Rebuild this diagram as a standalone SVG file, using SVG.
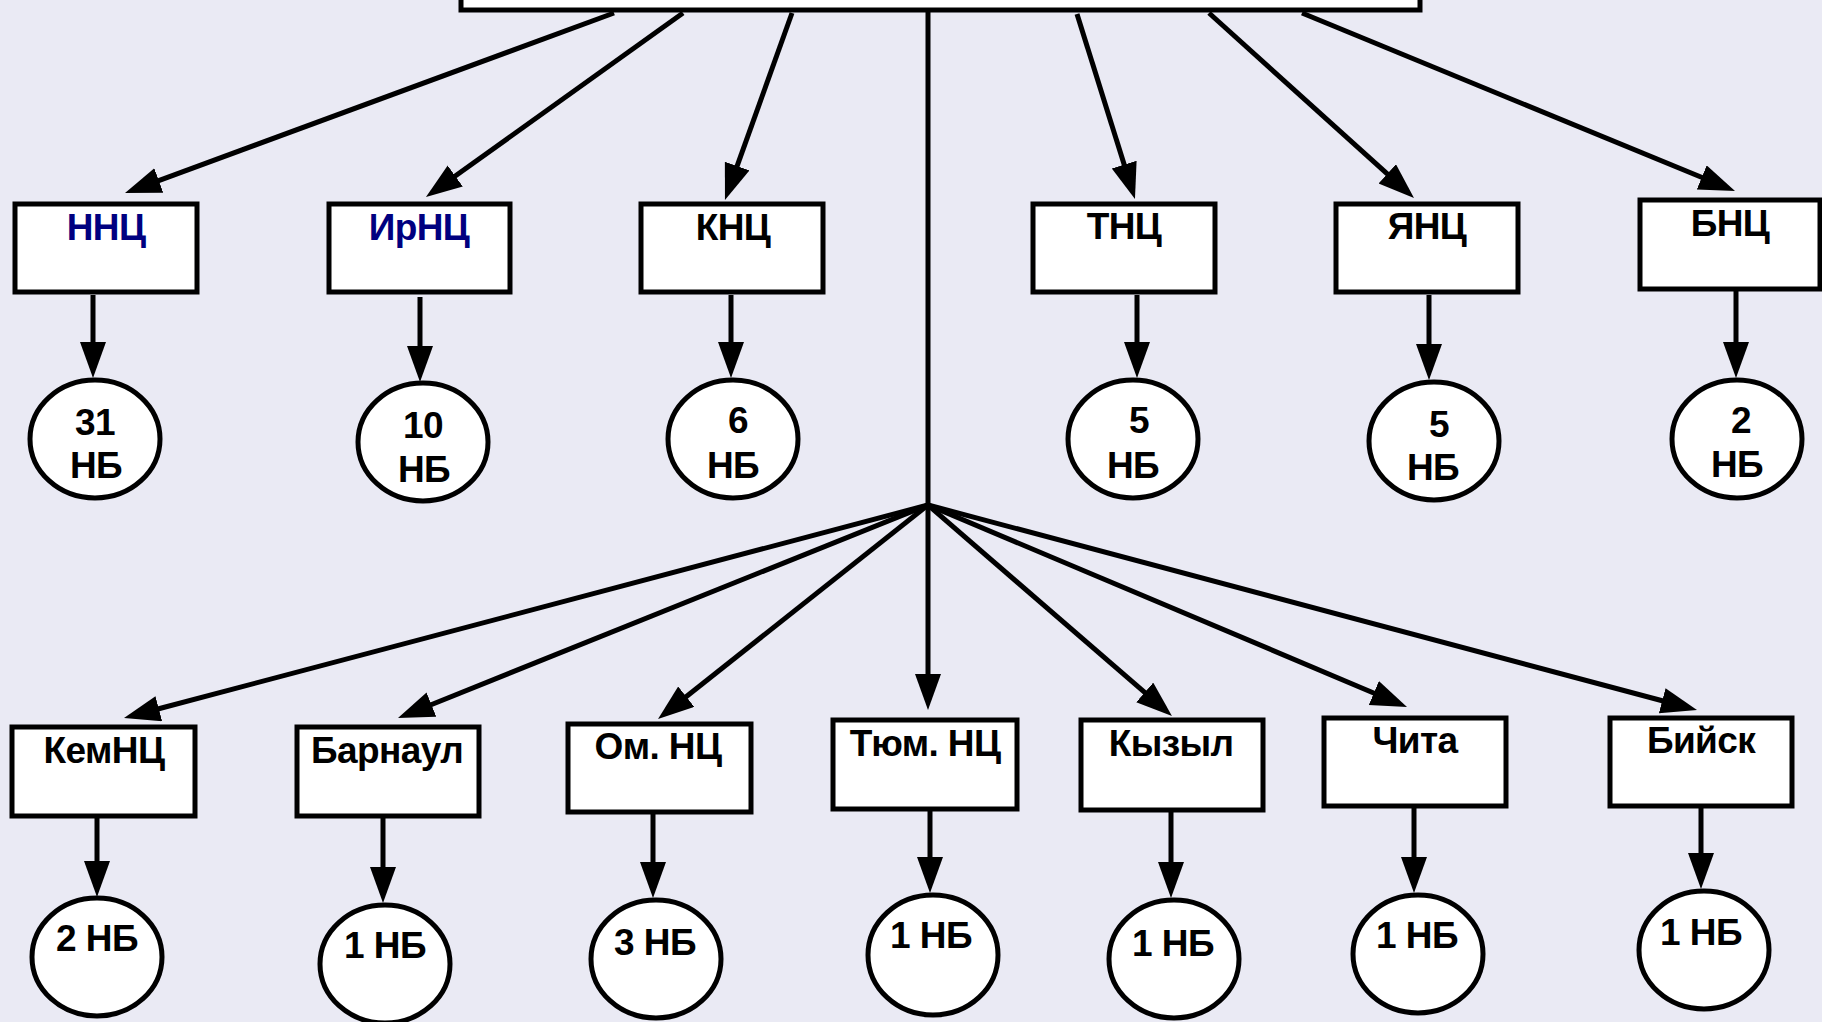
<svg xmlns="http://www.w3.org/2000/svg" width="1822" height="1022" viewBox="0 0 1822 1022">
<style>
.box{fill:#fff;stroke:#000;stroke-width:5}
.nb{fill:#fff;stroke:#000;stroke-width:5}
.t{font-family:"Liberation Sans",Arial,sans-serif;font-weight:bold;font-size:37px;letter-spacing:-0.6px;text-anchor:middle;fill:#000}
.blue{fill:#000080}
.c line{stroke:#000;stroke-width:5;marker-end:url(#ah)}
.c line.plain{marker-end:none}
</style>
<defs>
<marker id="ah" markerUnits="userSpaceOnUse" markerWidth="36" markerHeight="28" refX="3" refY="13" orient="auto">
<path d="M0,0 L36,13 L0,26 Z" fill="#000"/>
</marker>
</defs>
<rect width="1822" height="1022" fill="#EAEAF4"/>
<g id="root"><rect class="box" x="461" y="-20" width="959" height="30"/></g>
<g id="connectors" class="c">
<line class="plain" x1="928" y1="12" x2="928" y2="505"/>
<line x1="614" y1="13" x2="156" y2="181.6"/>
<line x1="683" y1="13" x2="452.8" y2="177.8"/>
<line x1="792" y1="13" x2="736.1" y2="168.9"/>
<line x1="1077" y1="14" x2="1125.1" y2="167.5"/>
<line x1="1209" y1="13" x2="1389.5" y2="175.9"/>
<line x1="1302" y1="13" x2="1704.5" y2="178.5"/>
<line x1="93" y1="295" x2="93" y2="345"/>
<line x1="420" y1="297" x2="420" y2="349"/>
<line x1="731" y1="295" x2="731" y2="345"/>
<line x1="1137" y1="295" x2="1137" y2="345"/>
<line x1="1429" y1="295" x2="1429" y2="347"/>
<line x1="1736" y1="291" x2="1736" y2="345"/>
<line x1="928" y1="505" x2="155.9" y2="709.5"/>
<line x1="928" y1="505" x2="428.6" y2="705.7"/>
<line x1="928" y1="505" x2="683.9" y2="698.5"/>
<line x1="928" y1="505" x2="928" y2="677"/>
<line x1="928" y1="505" x2="1147" y2="694.4"/>
<line x1="928" y1="505" x2="1376.6" y2="694.2"/>
<line x1="928" y1="505" x2="1665.1" y2="701.5"/>
<line x1="97" y1="816" x2="97" y2="864"/>
<line x1="383" y1="816" x2="383" y2="870"/>
<line x1="653" y1="812" x2="653" y2="865"/>
<line x1="930" y1="809" x2="930" y2="860"/>
<line x1="1171" y1="810" x2="1171" y2="865"/>
<line x1="1414" y1="806" x2="1414" y2="860"/>
<line x1="1701" y1="802" x2="1701" y2="856"/>
</g>
<g id="n-nnc"><rect class="box" x="15" y="204" width="182" height="88"/><text class="t blue" x="106" y="240">ННЦ</text></g>
<g id="n-irnc"><rect class="box" x="329" y="204" width="181" height="88"/><text class="t blue" x="419" y="240">ИрНЦ</text></g>
<g id="n-knc"><rect class="box" x="641" y="204" width="182" height="88"/><text class="t" x="733" y="240">КНЦ</text></g>
<g id="n-tnc"><rect class="box" x="1033" y="204" width="182" height="88"/><text class="t" x="1124" y="239">ТНЦ</text></g>
<g id="n-ync"><rect class="box" x="1336" y="204" width="182" height="88"/><text class="t" x="1427" y="239">ЯНЦ</text></g>
<g id="n-bnc"><rect class="box" x="1640" y="200" width="180" height="89"/><text class="t" x="1730" y="236">БНЦ</text></g>
<g id="c-nnc"><ellipse class="nb" cx="95" cy="439" rx="65" ry="59"/><text class="t" x="95" y="435">31</text><text class="t" x="96" y="478">НБ</text></g>
<g id="c-irnc"><ellipse class="nb" cx="423" cy="442" rx="65" ry="59"/><text class="t" x="423" y="438">10</text><text class="t" x="424" y="482">НБ</text></g>
<g id="c-knc"><ellipse class="nb" cx="733" cy="439" rx="65" ry="59"/><text class="t" x="738" y="433">6</text><text class="t" x="733" y="478">НБ</text></g>
<g id="c-tnc"><ellipse class="nb" cx="1133" cy="439" rx="65" ry="59"/><text class="t" x="1139" y="433">5</text><text class="t" x="1133" y="478">НБ</text></g>
<g id="c-ync"><ellipse class="nb" cx="1434" cy="441" rx="65" ry="59"/><text class="t" x="1439" y="437">5</text><text class="t" x="1433" y="480">НБ</text></g>
<g id="c-bnc"><ellipse class="nb" cx="1737" cy="439" rx="65" ry="59"/><text class="t" x="1741" y="433">2</text><text class="t" x="1737" y="477">НБ</text></g>
<g id="n-kem"><rect class="box" x="12" y="727" width="183" height="89"/><text class="t" x="104" y="763">КемНЦ</text></g>
<g id="n-barn"><rect class="box" x="297" y="727" width="182" height="89"/><text class="t" x="387" y="763">Барнаул</text></g>
<g id="n-om"><rect class="box" x="568" y="724" width="183" height="88"/><text class="t" x="658" y="759">Ом. НЦ</text></g>
<g id="n-tum"><rect class="box" x="833" y="720" width="184" height="89"/><text class="t" x="925" y="756">Тюм. НЦ</text></g>
<g id="n-kyz"><rect class="box" x="1081" y="720" width="182" height="90"/><text class="t" x="1171" y="756">Кызыл</text></g>
<g id="n-chita"><rect class="box" x="1324" y="718" width="182" height="88"/><text class="t" x="1415" y="753">Чита</text></g>
<g id="n-biysk"><rect class="box" x="1610" y="718" width="182" height="88"/><text class="t" x="1701" y="753">Бийск</text></g>
<g id="c-kem"><ellipse class="nb" cx="97" cy="957" rx="65" ry="59"/><text class="t" x="97" y="951">2 НБ</text></g>
<g id="c-barn"><ellipse class="nb" cx="385" cy="964" rx="65" ry="59"/><text class="t" x="385" y="958">1 НБ</text></g>
<g id="c-om"><ellipse class="nb" cx="656" cy="959" rx="65" ry="59"/><text class="t" x="655" y="955">3 НБ</text></g>
<g id="c-tum"><ellipse class="nb" cx="933" cy="955" rx="65" ry="60"/><text class="t" x="931" y="948">1 НБ</text></g>
<g id="c-kyz"><ellipse class="nb" cx="1174" cy="959" rx="65" ry="59"/><text class="t" x="1173" y="956">1 НБ</text></g>
<g id="c-chita"><ellipse class="nb" cx="1418" cy="954" rx="65" ry="59"/><text class="t" x="1417" y="948">1 НБ</text></g>
<g id="c-biysk"><ellipse class="nb" cx="1704" cy="950" rx="65" ry="59"/><text class="t" x="1701" y="945">1 НБ</text></g>
</svg>
